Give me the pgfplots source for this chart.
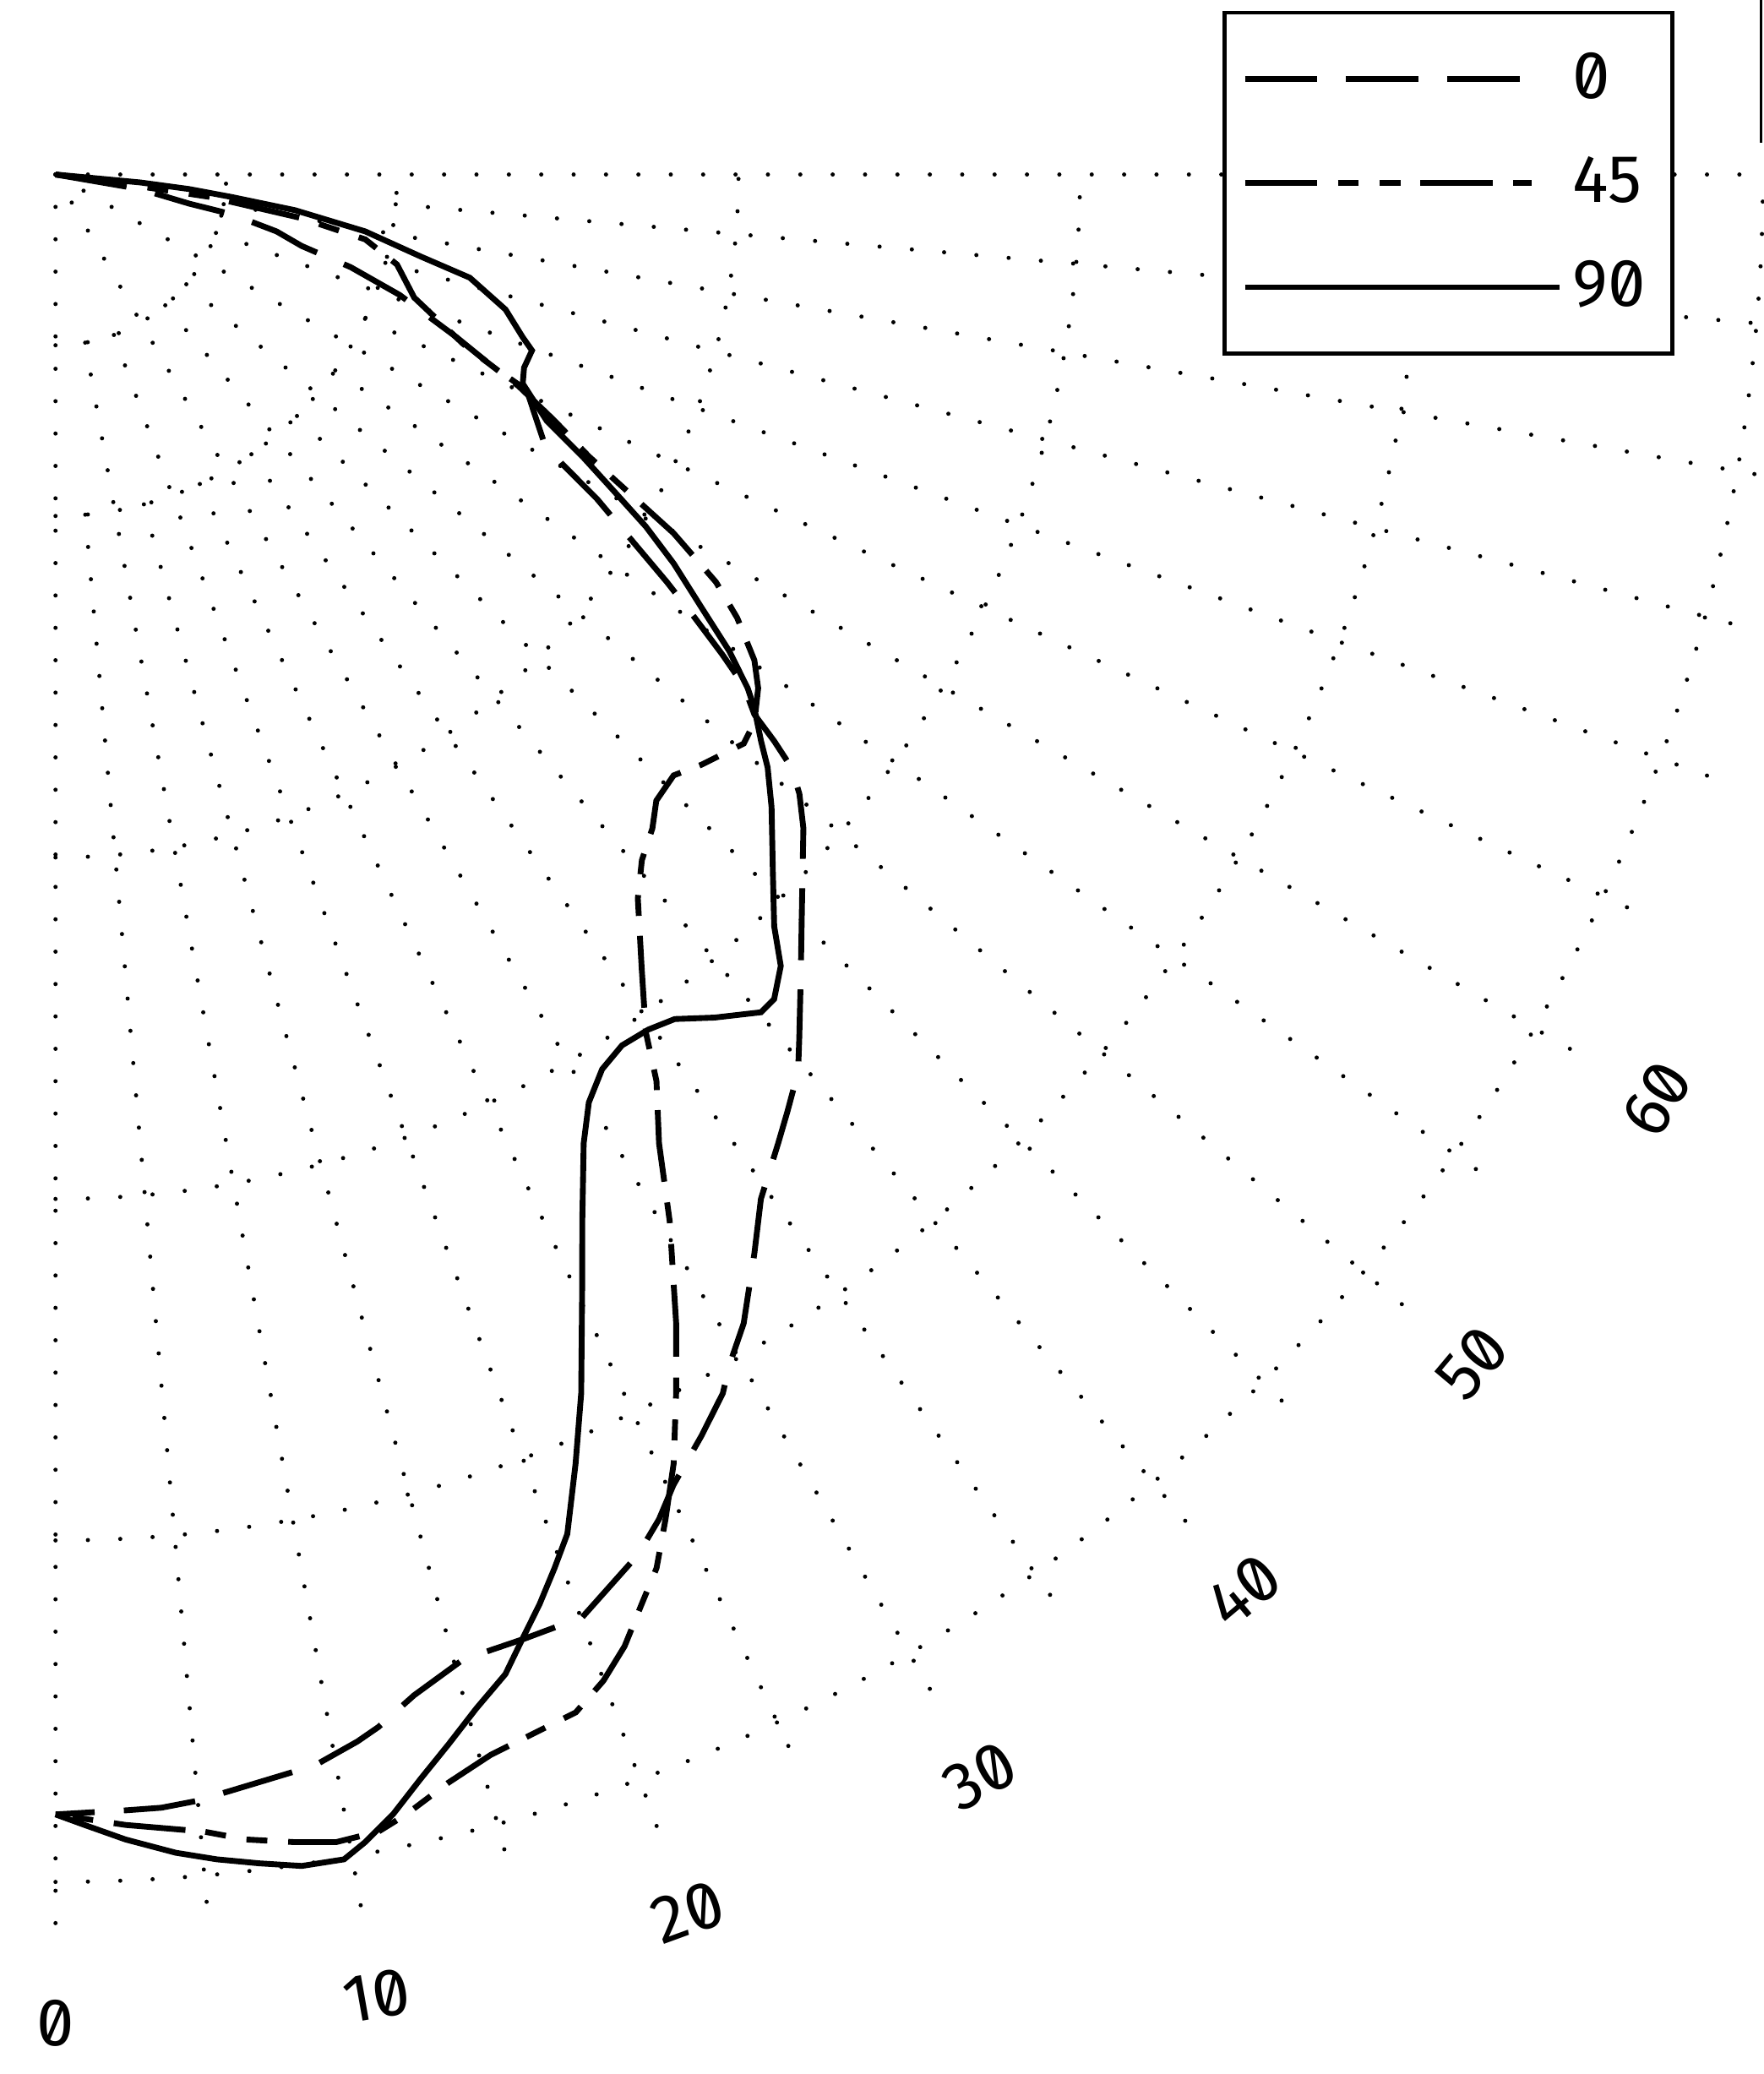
\documentclass[border=0pt]{standalone}
\usepackage{fontspec}
\usepackage{pgfplots}
\pgfplotsset{compat=1.18}
\usepgfplotslibrary{polar}
\usepackage{pgfplotstable}
\newfontfamily\plotfont[Numbers=SlashedZero]{Fira Sans}
\newcommand\pf{\plotfont\fontsize{14.5}{16}\selectfont}
\tikzset{gridline/.style={black, line width=0.9pt, line cap=round, dash pattern=on 0pt off 6.97pt}}
\pgfplotsset{leglen/.style={legend image code/.code={\draw[##1] (0cm,0cm) -- (#1,0cm);}}}

% angle t in degrees from the downward direction, radius r
\pgfplotstableread{
t r
90 0
80.25 0.2517
77.71 0.4007
77.29 0.5285
75.56 0.6684
73.81 0.7507
72.57 0.9059
70.71 1.0677
67.91 1.2675
66.35 1.3920
65.40 1.5176
61.30 1.6305
60.29 1.7048
59.08 1.8480
57.61 1.9968
56.31 2.1521
55.26 2.2783
54.24 2.4074
53.40 2.5101
52.31 2.5863
51.75 2.6798
51.14 2.7676
50.22 2.8347
48.84 2.9090
45.83 3.0480
42.80 3.2118
40.71 3.3393
39.61 3.4109
37.99 3.4821
36.72 3.5395
34.55 3.6425
32.94 3.7639
30.92 3.9219
29.49 4.0076
28.70 4.0693
27.12 4.1499
25.25 4.2427
24.17 4.3164
22.87 4.3876
20.06 4.4976
17.80 4.5023
15.35 4.5097
13.27 4.5757
11.75 4.6438
10.90 4.6734
9.26 4.7205
6.22 4.7605
4.93 4.7812
3.71 4.7930
2.46 4.7951
0 4.8023
}\curvezero

\pgfplotstableread{
t r
90 0
82.00 0.2505
81.73 0.4583
79.94 0.7322
78.17 0.9267
75.23 1.0342
71.06 1.1105
67.43 1.2928
65.43 1.4916
63.74 1.6294
62.14 1.7668
60.91 1.9294
59.87 2.0928
58.32 2.2729
56.96 2.3813
55.20 2.4923
53.83 2.5490
51.90 2.6006
50.41 2.6153
47.58 2.5624
45.81 2.5245
43.82 2.5412
42.39 2.5927
40.54 2.6419
38.81 2.7209
36.43 2.8908
34.54 3.0490
33.54 3.1852
31.92 3.3427
30.40 3.5545
29.13 3.7184
28.38 3.8240
26.98 4.0060
25.62 4.1867
24.40 4.3244
23.33 4.4446
22.30 4.5245
21.14 4.6211
19.99 4.6937
18.69 4.7545
17.04 4.7755
15.40 4.8004
13.73 4.8480
12.07 4.9110
11.03 4.9440
9.55 4.9524
8.17 4.9338
6.53 4.9078
5.11 4.8721
2.43 4.8377
0 4.8023
}\curvefortyfive

\pgfplotstableread{
t r
90 0
84.64 0.2492
83.78 0.3938
82.72 0.5197
81.52 0.7093
79.59 0.9222
77.34 1.0964
76.01 1.2503
73.30 1.3759
70.79 1.4489
69.73 1.4875
67.59 1.4842
65.89 1.4990
63.38 1.6086
61.85 1.7497
60.61 1.8639
59.19 2.0128
57.82 2.1389
56.17 2.2769
54.73 2.4164
53.42 2.5241
52.64 2.5745
51.24 2.6495
50.22 2.7136
48.54 2.7981
45.75 2.9328
43.71 3.0457
42.50 3.1438
41.07 3.2032
40.10 3.2074
38.02 3.1340
36.25 3.0668
34.74 3.0471
33.04 3.0424
31.42 3.0705
29.89 3.1341
28.60 3.2313
26.71 3.4321
25.32 3.6063
23.33 3.8873
21.97 4.0709
20.63 4.2539
19.70 4.3351
18.71 4.4199
17.70 4.4999
16.70 4.5850
15.34 4.6583
14.06 4.7388
12.83 4.8179
11.63 4.9030
10.52 4.9672
9.72 5.0059
8.28 5.0057
6.88 4.9816
5.47 4.9567
4.10 4.9274
2.41 4.8803
1.01 4.8341
0 4.8023
}\curveninety

\begin{document}
\begin{tikzpicture}
\begin{polaraxis}[
  scale only axis, width=26.66cm, height=26.66cm,
  xmin=-90, xmax=0, ymin=0, ymax=5.16,
  xtick={-90,-85,...,0}, ytick={0.5,1,2,3,4,5},
  xticklabels={}, yticklabels={},
  major tick length=0pt,
  xmajorgrids=false, ymajorgrids=true,
  major grid style={gridline},
  axis line style={draw=none},
  clip=false,
  legend cell align=left,
  legend style={
    at={([shift={(8.83cm,1.24cm)}]C)}, anchor=north west,
    draw=black, line width=0.9pt, fill=white,
    inner xsep=0.13cm, inner ysep=0.3cm,
    row sep=0.39cm, column sep=0.08cm,
    nodes={inner sep=0pt},
    font=\pf,
  },
]
\coordinate (C) at (axis cs:0,0);
% radial grid lines: every 30 deg from the centre, every 10 deg from r=0.5, every 5 deg from r=1
\draw[gridline] (axis cs:-90,0) -- (axis cs:-90,5.16);
\draw[gridline] (axis cs:-60,0) -- (axis cs:-60,5.16);
\draw[gridline] (axis cs:-30,0) -- (axis cs:-30,5.16);
\draw[gridline] (axis cs:0,0) -- (axis cs:0,5.16);
\draw[gridline] (axis cs:-80,0.5) -- (axis cs:-80,5.16);
\draw[gridline] (axis cs:-70,0.5) -- (axis cs:-70,5.16);
\draw[gridline] (axis cs:-50,0.5) -- (axis cs:-50,5.16);
\draw[gridline] (axis cs:-40,0.5) -- (axis cs:-40,5.16);
\draw[gridline] (axis cs:-20,0.5) -- (axis cs:-20,5.16);
\draw[gridline] (axis cs:-10,0.5) -- (axis cs:-10,5.16);
\draw[gridline] (axis cs:-85,1) -- (axis cs:-85,5.16);
\draw[gridline] (axis cs:-75,1) -- (axis cs:-75,5.16);
\draw[gridline] (axis cs:-65,1) -- (axis cs:-65,5.16);
\draw[gridline] (axis cs:-55,1) -- (axis cs:-55,5.16);
\draw[gridline] (axis cs:-45,1) -- (axis cs:-45,5.16);
\draw[gridline] (axis cs:-35,1) -- (axis cs:-35,5.16);
\draw[gridline] (axis cs:-25,1) -- (axis cs:-25,5.16);
\draw[gridline] (axis cs:-15,1) -- (axis cs:-15,5.16);
\draw[gridline] (axis cs:-5,1) -- (axis cs:-5,5.16);
\addplot[black, line width=1.25pt, dash pattern=on 15.5pt off 6.3pt, leglen=2.12cm]
  table[x expr=\thisrow{t}-90, y=r] {\curvezero};
\addlegendentry{\makebox[0.62cm][l]{0}}
\addplot[black, line width=1.25pt, dash pattern=on 15.5pt off 4.5pt on 4.5pt off 4.5pt on 4.5pt off 4.3pt, leglen=2.17cm]
  table[x expr=\thisrow{t}-90, y=r] {\curvefortyfive};
\addlegendentry{\makebox[0.62cm][l]{45}}
\addplot[black, line width=1.25pt, leglen=2.38cm]
  table[x expr=\thisrow{t}-90, y=r] {\curveninety};
\addlegendentry{\makebox[0.62cm][l]{90}}
\node[font=\pf, rotate=0]  at (axis cs:-90,5.415) {0};
\node[font=\pf, rotate=10] at (axis cs:-80,5.415) {10};
\node[font=\pf, rotate=20] at (axis cs:-70,5.415) {20};
\node[font=\pf, rotate=30] at (axis cs:-60,5.415) {30};
\node[font=\pf, rotate=40] at (axis cs:-50,5.415) {40};
\node[font=\pf, rotate=50] at (axis cs:-40,5.415) {50};
\node[font=\pf, rotate=60] at (axis cs:-30,5.415) {60};
\end{polaraxis}
% edge of a neighbouring frame, cut by the picture's right border
\draw[line width=0.6pt] ([shift={(12.90cm,1.32cm)}]C) -- ([shift={(12.90cm,0.24cm)}]C);
\pgfresetboundingbox
\path[use as bounding box] ([shift={(-0.42cm,-14.37cm)}]C) rectangle ([shift={(12.92cm,1.32cm)}]C);
\end{tikzpicture}
\end{document}
